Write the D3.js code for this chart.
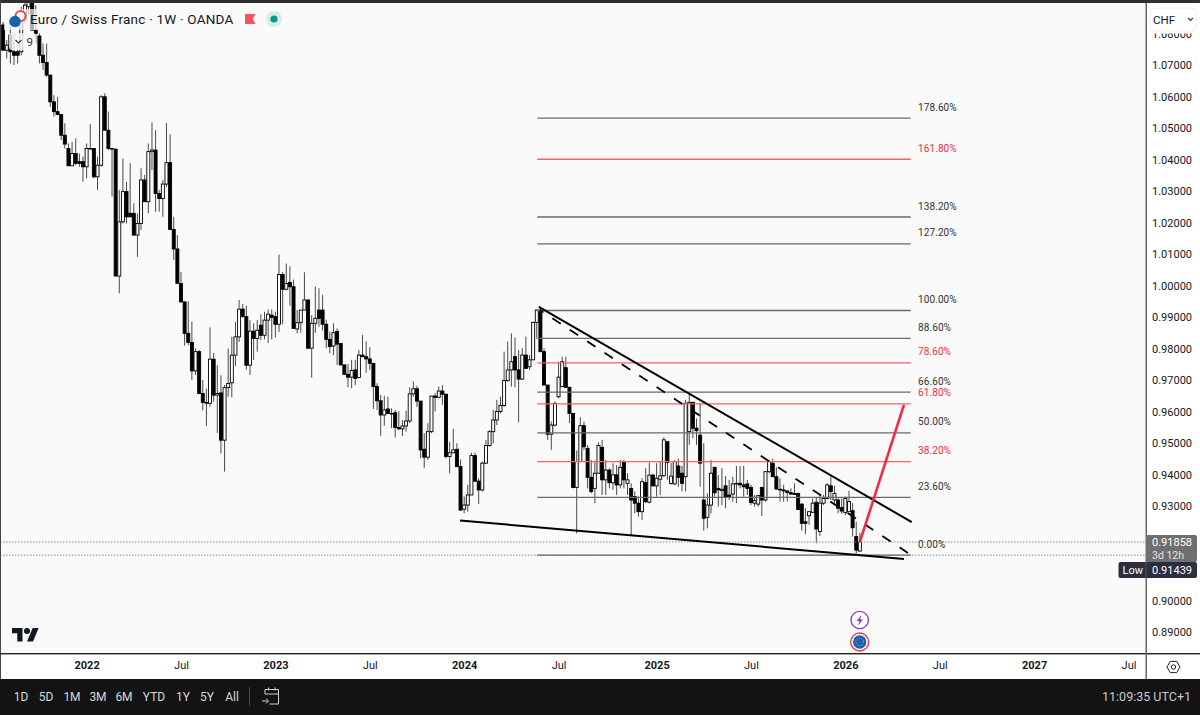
<!DOCTYPE html>
<html><head><meta charset="utf-8">
<script src="https://cdnjs.cloudflare.com/ajax/libs/d3/7.8.5/d3.min.js"></script>
<style>html,body{margin:0;padding:0;background:#111}svg{display:block}text{font-family:Roboto,sans-serif}</style>
</head><body><svg id="c" width="1200" height="715"></svg>
<script>
const opens=[1.0827,1.0747,1.0795,1.0742,1.0742,1.0742,1.0843,1.0885,1.0920,1.0811,
1.0792,1.0731,1.0708,1.0668,1.0583,1.0552,1.0543,1.0477,1.0435,1.0380,
1.0419,1.0393,1.0393,1.0377,1.0433,1.0435,1.0345,1.0382,1.0599,1.0493,
1.0435,1.0433,1.0030,1.0202,1.0298,1.0229,1.0229,1.0160,1.0197,1.0335,
1.0266,1.0425,1.0430,1.0292,1.0276,1.0322,1.0390,1.0178,1.0116,1.0006,
0.9948,0.9848,0.9819,0.9729,0.9790,0.9657,0.9626,0.9626,0.9766,0.9652,
0.9659,0.9509,0.9676,0.9691,0.9779,0.9837,0.9925,0.9901,0.9747,0.9855,
0.9832,0.9874,0.9842,0.9890,0.9906,0.9901,0.9877,1.0035,0.9988,1.0010,
0.9996,0.9862,0.9882,0.9922,0.9954,0.9801,0.9880,0.9922,0.9922,0.9877,
0.9829,0.9808,0.9854,0.9816,0.9748,0.9718,0.9709,0.9732,0.9708,0.9779,
0.9774,0.9767,0.9753,0.9679,0.9634,0.9589,0.9608,0.9594,0.9596,0.9549,
0.9545,0.9554,0.9570,0.9656,0.9672,0.9633,0.9480,0.9455,0.9536,0.9649,
0.9645,0.9665,0.9655,0.9457,0.9469,0.9480,0.9425,0.9290,0.9303,0.9335,
0.9460,0.9379,0.9351,0.9436,0.9492,0.9536,0.9573,0.9600,0.9619,0.9698,
0.9732,0.9774,0.9732,0.9703,0.9779,0.9742,0.9764,0.9883,0.9922,0.9790,
0.9684,0.9528,0.9557,0.9647,0.9679,0.9739,0.9677,0.9594,0.9359,0.9441,
0.9555,0.9483,0.9391,0.9356,0.9404,0.9486,0.9383,0.9414,0.9374,0.9399,
0.9367,0.9439,0.9372,0.9356,0.9330,0.9309,0.9282,0.9375,0.9312,0.9398,
0.9364,0.9385,0.9396,0.9504,0.9372,0.9370,0.9427,0.9404,0.9393,0.9536,
0.9629,0.9547,0.9525,0.9319,0.9264,0.9303,0.9423,0.9356,0.9349,0.9364,
0.9335,0.9338,0.9370,0.9372,0.9367,0.9370,0.9359,0.9309,0.9306,0.9359,
0.9319,0.9409,0.9436,0.9393,0.9353,0.9351,0.9348,0.9342,0.9340,0.9340,
0.9306,0.9250,0.9269,0.9280,0.9312,0.9219,0.9309,0.9324,0.9364,0.9319,
0.9319,0.9295,0.9279,0.9282,0.9285,0.9203,0.9157];
const highs=[1.0837,1.0779,1.0821,1.0800,1.0768,1.0885,1.0906,1.0930,1.0940,1.0890,
1.0800,1.0768,1.0768,1.0668,1.0604,1.0599,1.0543,1.0515,1.0451,1.0456,
1.0467,1.0419,1.0409,1.0451,1.0512,1.0435,1.0409,1.0604,1.0610,1.0552,
1.0435,1.0433,1.0303,1.0403,1.0329,1.0388,1.0261,1.0229,1.0372,1.0351,
1.0451,1.0518,1.0493,1.0303,1.0335,1.0515,1.0480,1.0218,1.0160,1.0043,
0.9950,0.9950,0.9885,0.9800,0.9795,0.9700,0.9673,0.9867,0.9786,0.9747,
0.9715,0.9684,0.9800,0.9837,0.9885,0.9954,0.9941,0.9936,0.9890,0.9880,
0.9890,0.9909,0.9917,0.9924,0.9924,0.9917,1.0098,1.0043,1.0070,1.0061,
1.0019,0.9922,0.9922,1.0042,0.9956,0.9906,0.9996,0.9991,0.9970,0.9891,
0.9854,0.9880,0.9864,0.9816,0.9748,0.9751,0.9764,0.9764,0.9795,0.9843,
0.9822,0.9804,0.9753,0.9690,0.9652,0.9650,0.9647,0.9610,0.9605,0.9602,
0.9573,0.9603,0.9677,0.9695,0.9682,0.9633,0.9531,0.9563,0.9649,0.9658,
0.9679,0.9684,0.9655,0.9504,0.9545,0.9499,0.9448,0.9330,0.9367,0.9469,
0.9469,0.9388,0.9441,0.9510,0.9541,0.9605,0.9637,0.9647,0.9790,0.9822,
0.9848,0.9835,0.9795,0.9801,0.9838,0.9779,0.9885,0.9924,0.9933,0.9801,
0.9684,0.9568,0.9631,0.9758,0.9774,0.9774,0.9677,0.9594,0.9476,0.9582,
0.9568,0.9494,0.9446,0.9444,0.9502,0.9510,0.9446,0.9420,0.9436,0.9430,
0.9446,0.9446,0.9404,0.9372,0.9346,0.9330,0.9388,0.9420,0.9438,0.9402,
0.9436,0.9441,0.9518,0.9504,0.9436,0.9446,0.9451,0.9427,0.9637,0.9658,
0.9629,0.9578,0.9626,0.9499,0.9340,0.9446,0.9423,0.9398,0.9420,0.9395,
0.9383,0.9393,0.9427,0.9427,0.9427,0.9383,0.9367,0.9335,0.9335,0.9361,
0.9411,0.9446,0.9451,0.9423,0.9388,0.9367,0.9349,0.9356,0.9372,0.9342,
0.9309,0.9293,0.9284,0.9324,0.9328,0.9335,0.9335,0.9372,0.9393,0.9364,
0.9324,0.9324,0.9330,0.9348,0.9309,0.9250,0.9215];
const lows=[1.0747,1.0721,1.0705,1.0700,1.0705,1.0731,1.0832,1.0860,1.0810,1.0768,
1.0705,1.0684,1.0663,1.0567,1.0536,1.0541,1.0462,1.0435,1.0380,1.0380,
1.0382,1.0377,1.0329,1.0340,1.0433,1.0340,1.0303,1.0377,1.0493,1.0430,
1.0282,1.0030,0.9975,1.0197,1.0197,1.0218,1.0160,1.0091,1.0176,1.0266,
1.0229,1.0366,1.0234,1.0234,1.0218,1.0313,1.0176,1.0081,1.0007,0.9946,
0.9809,0.9811,0.9700,0.9716,0.9655,0.9604,0.9554,0.9615,0.9631,0.9532,
0.9467,0.9409,0.9647,0.9645,0.9744,0.9821,0.9899,0.9733,0.9716,0.9763,
0.9790,0.9827,0.9829,0.9818,0.9829,0.9835,0.9853,0.9877,0.9985,0.9936,
0.9864,0.9848,0.9850,0.9922,0.9801,0.9708,0.9850,0.9869,0.9857,0.9801,
0.9785,0.9779,0.9748,0.9745,0.9716,0.9677,0.9674,0.9684,0.9705,0.9774,
0.9723,0.9732,0.9608,0.9605,0.9523,0.9555,0.9594,0.9547,0.9517,0.9541,
0.9522,0.9536,0.9563,0.9647,0.9615,0.9451,0.9420,0.9446,0.9531,0.9600,
0.9642,0.9621,0.9451,0.9404,0.9467,0.9423,0.9285,0.9277,0.9282,0.9335,
0.9377,0.9306,0.9346,0.9433,0.9488,0.9499,0.9557,0.9594,0.9615,0.9695,
0.9679,0.9677,0.9566,0.9700,0.9737,0.9732,0.9764,0.9832,0.9790,0.9684,
0.9510,0.9478,0.9552,0.9642,0.9677,0.9674,0.9563,0.9356,0.9213,0.9441,
0.9478,0.9356,0.9340,0.9309,0.9404,0.9335,0.9335,0.9356,0.9351,0.9335,
0.9356,0.9356,0.9335,0.9208,0.9277,0.9266,0.9256,0.9309,0.9308,0.9361,
0.9330,0.9335,0.9393,0.9383,0.9367,0.9367,0.9361,0.9346,0.9346,0.9494,
0.9515,0.9494,0.9361,0.9222,0.9229,0.9277,0.9330,0.9298,0.9303,0.9293,
0.9319,0.9314,0.9309,0.9356,0.9330,0.9335,0.9303,0.9298,0.9298,0.9268,
0.9314,0.9404,0.9393,0.9351,0.9314,0.9314,0.9314,0.9335,0.9335,0.9287,
0.9222,0.9211,0.9240,0.9277,0.9182,0.9205,0.9303,0.9321,0.9319,0.9303,
0.9277,0.9275,0.9271,0.9282,0.9203,0.9144,0.9155];
const closes=[1.0747,1.0763,1.0742,1.0731,1.0731,1.0843,1.0890,1.0920,1.0811,1.0800,
1.0731,1.0708,1.0668,1.0583,1.0552,1.0543,1.0477,1.0449,1.0380,1.0419,
1.0388,1.0388,1.0377,1.0435,1.0435,1.0345,1.0382,1.0599,1.0493,1.0435,
1.0433,1.0030,1.0202,1.0298,1.0218,1.0218,1.0160,1.0197,1.0335,1.0266,
1.0425,1.0430,1.0292,1.0276,1.0322,1.0390,1.0178,1.0116,1.0007,0.9948,
0.9848,0.9819,0.9729,0.9790,0.9657,0.9629,0.9629,0.9766,0.9652,0.9657,
0.9509,0.9676,0.9689,0.9779,0.9837,0.9925,0.9901,0.9747,0.9855,0.9832,
0.9858,0.9842,0.9890,0.9909,0.9899,0.9877,1.0035,0.9988,1.0006,0.9996,
0.9864,0.9882,0.9922,0.9954,0.9801,0.9880,0.9896,0.9896,0.9877,0.9829,
0.9806,0.9850,0.9814,0.9748,0.9718,0.9709,0.9730,0.9705,0.9779,0.9774,
0.9767,0.9753,0.9679,0.9634,0.9589,0.9605,0.9594,0.9592,0.9549,0.9545,
0.9554,0.9570,0.9656,0.9672,0.9633,0.9478,0.9455,0.9536,0.9649,0.9645,
0.9665,0.9655,0.9457,0.9469,0.9478,0.9425,0.9287,0.9303,0.9335,0.9460,
0.9379,0.9351,0.9436,0.9492,0.9536,0.9573,0.9600,0.9619,0.9698,0.9732,
0.9758,0.9732,0.9703,0.9779,0.9737,0.9764,0.9883,0.9922,0.9790,0.9684,
0.9528,0.9557,0.9626,0.9709,0.9758,0.9677,0.9594,0.9359,0.9441,0.9555,
0.9488,0.9391,0.9346,0.9404,0.9492,0.9383,0.9414,0.9374,0.9399,0.9367,
0.9423,0.9383,0.9383,0.9319,0.9309,0.9282,0.9377,0.9314,0.9398,0.9364,
0.9388,0.9396,0.9510,0.9438,0.9395,0.9441,0.9391,0.9372,0.9626,0.9629,
0.9547,0.9539,0.9436,0.9261,0.9303,0.9404,0.9342,0.9351,0.9353,0.9328,
0.9328,0.9370,0.9372,0.9367,0.9361,0.9356,0.9311,0.9317,0.9333,0.9319,
0.9409,0.9441,0.9393,0.9354,0.9351,0.9348,0.9343,0.9338,0.9337,0.9289,
0.9245,0.9245,0.9282,0.9309,0.9227,0.9309,0.9324,0.9367,0.9346,0.9340,
0.9293,0.9284,0.9324,0.9314,0.9231,0.9160,0.9186];
const priceTicks=[1.08,1.07,1.06,1.05,1.04,1.03,1.02,1.01,1.00,0.99,0.98,0.97,0.96,0.95,0.94,0.93,0.90,0.89];
const timeTickDates=["2022-01-03","2022-07-04","2023-01-02","2023-07-03","2024-01-01","2024-07-01","2025-01-06","2025-07-07","2026-01-05","2026-07-06","2027-01-04","2027-07-05"];
const timeTickLabels=["2022","Jul","2023","Jul","2024","Jul","2025","Jul","2026","Jul","2027","Jul"];
const fibRatios=[1.786,1.618,1.382,1.272,1,0.886,0.786,0.666,0.618,0.5,0.382,0.236,0];
const fibRed=[1.618,0.786,0.618,0.382];
const fibLowPrice=0.91439, fibHighPrice=0.99207;
const rangeButtons=["1D","5D","1M","3M","6M","YTD","1Y","5Y","All"];
const trendSolid=[["2024-05-24",0.9932],["2026-05-13",0.9249]];
const trendFloor=[["2023-12-24",0.9254],["2026-04-28",0.9132]];
const trendDash=[["2024-05-26",0.9922],["2026-05-06",0.9151]];
const trendRed=[["2026-02-02",0.91858],["2026-04-28",0.9621]];
const fibSpan=["2024-05-21","2026-05-11"];
const lastBar="2026-02-02", lastPrice=0.91858, lowPrice=0.91439;

const svg=d3.select("#c");
const W=1146,PB=654;
const x=d3.scaleUtc().domain([new Date("2021-07-20"),new Date("2027-07-31")]).range([0,1142]);
const y=d3.scaleLinear().domain([0.89,1.07]).range([632,65]);
const D=s=>new Date(s);
const bars=opens.map((o,i)=>({date:d3.utcDay.offset(D(lastBar),-7*(opens.length-1-i)),o,h:highs[i],l:lows[i],c:closes[i]}));

svg.append("rect").attr("width",1200).attr("height",715).attr("fill","#ffffff");
svg.append("rect").attr("x",1).attr("y",3).attr("width",W-1).attr("height",PB-3).attr("fill","#fafafa");
svg.append("defs").append("clipPath").attr("id","pane").append("rect").attr("x",1).attr("y",3).attr("width",W-1).attr("height",PB-3);
const pane=svg.append("g").attr("clip-path","url(#pane)");

// candles
const cg=pane.append("g").selectAll("g").data(bars).join("g");
cg.append("line").attr("x1",d=>x(d.date)).attr("x2",d=>x(d.date)).attr("y1",d=>y(d.h)).attr("y2",d=>y(d.l)).attr("stroke","#4a4a4a").attr("stroke-width",1);
cg.append("rect").attr("x",d=>x(d.date)-1.5).attr("width",3)
 .attr("y",d=>y(Math.max(d.o,d.c))).attr("height",d=>Math.max(0.6,Math.abs(y(d.o)-y(d.c))))
 .attr("fill",d=>d.c>=d.o?"#ffffff":"#000000").attr("stroke","#000000").attr("stroke-width",0.9);

// dotted price lines
[lastPrice,lowPrice].forEach(p=>pane.append("line").attr("x1",0).attr("x2",W).attr("y1",y(p)).attr("y2",y(p)).attr("stroke","#888").attr("stroke-width",1).attr("stroke-dasharray","1.5 1.5"));

// fib
const fibPrice=r=>fibLowPrice+r*(fibHighPrice-fibLowPrice);
const fg=pane.append("g").selectAll("g").data(fibRatios).join("g");
fg.append("line").attr("x1",x(D(fibSpan[0]))).attr("x2",x(D(fibSpan[1]))).attr("y1",r=>y(fibPrice(r))).attr("y2",r=>y(fibPrice(r)))
 .attr("stroke",r=>fibRed.includes(r)?"#f4606c":"#6a6a6a").attr("stroke-width",1.3);
fg.append("text").attr("x",918).attr("y",r=>y(fibPrice(r))-7.5).attr("font-size",10).attr("letter-spacing",0.1)
 .attr("fill",r=>fibRed.includes(r)?"#e8303f":"#333").text(r=>(r*100).toFixed(2)+"%");

// trend lines
const ln=d3.line().x(d=>x(D(d[0]))).y(d=>y(d[1]));
pane.append("path").attr("d",ln(trendSolid)).attr("stroke","#000").attr("stroke-width",2).attr("fill","none");
pane.append("path").attr("d",ln(trendFloor)).attr("stroke","#000").attr("stroke-width",2).attr("fill","none");
pane.append("path").attr("d",ln(trendDash)).attr("stroke","#000").attr("stroke-width",1.8).attr("stroke-dasharray","10 10.8").attr("stroke-dashoffset",5.8).attr("fill","none");
pane.append("path").attr("d",ln(trendRed)).attr("stroke","#f5293f").attr("stroke-width",2.6).attr("fill","none");

// header
pane.append("rect").attr("x",4).attr("y",9).attr("width",290).attr("height",21).attr("fill","#fafafa").attr("opacity",0.7);
pane.append("rect").attr("x",9).attr("y",33).attr("width",27).attr("height",17).attr("rx",3).attr("fill","#fafafa").attr("opacity",0.8);
pane.append("circle").attr("cx",20.5).attr("cy",16).attr("r",5).attr("fill","#fff").attr("stroke","#e8474c").attr("stroke-width",2);
pane.append("circle").attr("cx",15).attr("cy",21.5).attr("r",5.8).attr("fill","#1b5fb0");
pane.append("text").attr("x",30).attr("y",24).attr("font-size",13.5).attr("fill","#131722").attr("letter-spacing",0.22).text("Euro / Swiss Franc · 1W · OANDA");
pane.append("path").attr("d","M245 14h10.5l-2.6 5 2.6 5H245z").attr("fill","#f7525f");
pane.append("circle").attr("cx",274).attr("cy",19).attr("r",8).attr("fill","#d6eee9");
pane.append("circle").attr("cx",274).attr("cy",19).attr("r",3.6).attr("fill","#089981");
pane.append("path").attr("d","M15.5 40l3 3 3-3").attr("fill","none").attr("stroke","#333").attr("stroke-width",1.1);
pane.append("text").attr("x",26.5).attr("y",46).attr("font-size",11.5).attr("fill","#333").text("9");

// logo
pane.append("g").attr("transform","translate(12,625) scale(0.75)").call(g=>{
 g.append("path").attr("d","M14 22H7V11H0V4h14v18zM28 22h-8l7.5-18h8L28 22z").attr("fill","#131722");
 g.append("circle").attr("cx",20).attr("cy",8).attr("r",4).attr("fill","#131722");
});

// event icons
pane.append("circle").attr("cx",859.7).attr("cy",620).attr("r",8.7).attr("fill","#fff").attr("stroke","#8e35c4").attr("stroke-width",1.3);
pane.append("path").attr("d","M861.5 615l-5 6h3l-1.5 4.5 5-6h-3z").attr("fill","#8e35c4");
pane.append("circle").attr("cx",859.7).attr("cy",642).attr("r",9).attr("fill","#fff").attr("stroke","#ee3a46").attr("stroke-width",1.4);
pane.append("circle").attr("cx",859.7).attr("cy",642).attr("r",6.7).attr("fill","#1b5fb0");
pane.append("circle").attr("cx",859.7).attr("cy",642).attr("r",3.8).attr("fill","none").attr("stroke","#e5c640").attr("stroke-width",0.9).attr("stroke-dasharray","1 1.4");

// price axis
const yAxis=svg.append("g").attr("transform",`translate(${W+6},0)`).call(d3.axisRight(y).tickValues(priceTicks).tickSize(0).tickPadding(0).tickFormat(d3.format(".5f")));
yAxis.select(".domain").remove();
yAxis.selectAll("text").attr("font-size",11).attr("fill","#131722").attr("font-family","Roboto,sans-serif");

// time axis
const timeTicks=timeTickDates.map(D);
const xAxis=svg.append("g").attr("transform",`translate(0,${PB})`).call(d3.axisBottom(x).tickValues(timeTicks).tickSize(0).tickPadding(7).tickFormat((d,i)=>timeTickLabels[i]));
xAxis.select(".domain").remove();
xAxis.selectAll("text").attr("font-size",11).attr("font-family","Roboto,sans-serif").attr("fill","#131722").attr("font-weight",(d,i)=>timeTickLabels[i]==="Jul"?400:700);

// frame
svg.append("rect").attr("x",0).attr("y",0).attr("width",1200).attr("height",3).attr("fill","#2f2f2f");
svg.append("rect").attr("x",0).attr("y",0).attr("width",1).attr("height",680).attr("fill","#444");
svg.append("rect").attr("x",0).attr("y",653).attr("width",1200).attr("height",1.4).attr("fill","#222");
svg.append("rect").attr("x",W-.5).attr("y",3).attr("width",1.5).attr("height",676).attr("fill","#666");
svg.append("rect").attr("x",0).attr("y",679).attr("width",1200).attr("height",36).attr("fill","#131313");

// currency box
svg.append("rect").attr("x",W+1).attr("y",3).attr("width",53).attr("height",30.5).attr("fill","#fff");
svg.append("rect").attr("x",1150).attr("y",8).attr("width",46).attr("height",23).attr("rx",4).attr("fill","#fff").attr("stroke","#eee");
svg.append("text").attr("x",1153).attr("y",24).attr("font-size",11.5).attr("fill","#131722").text("CHF");
svg.append("path").attr("d","M1188 18l2.5 2.5 2.5-2.5").attr("fill","none").attr("stroke","#333").attr("stroke-width",1.1);

// price tags
svg.append("rect").attr("x",W).attr("y",535).attr("width",51).attr("height",27).attr("rx",2).attr("fill","#6f6f6f");
svg.append("text").attr("x",W+6).attr("y",546).attr("font-size",11).attr("fill","#fff").text(lastPrice.toFixed(5));
svg.append("text").attr("x",W+6).attr("y",559).attr("font-size",10.5).attr("fill","#e4e4e4").text("3d 12h");
svg.append("rect").attr("x",1118.5).attr("y",562).attr("width",78.5).attr("height",16).attr("rx",2).attr("fill","#2a2e3f");
svg.append("text").attr("x",1122.5).attr("y",574).attr("font-size",11).attr("fill","#fff").text("Low");
svg.append("text").attr("x",W+6).attr("y",574).attr("font-size",11).attr("fill","#fff").text(lowPrice.toFixed(5));
svg.append("rect").attr("x",W-.5).attr("y",562).attr("width",1).attr("height",16).attr("fill","#555");

// gear
svg.append("path").attr("d","M1167 667l3.2-5.6h6.6l3.2 5.6-3.2 5.6h-6.6z").attr("fill","none").attr("stroke","#222").attr("stroke-width",1);
svg.append("circle").attr("cx",1173.5).attr("cy",667).attr("r",2.2).attr("fill","none").attr("stroke","#222").attr("stroke-width",1);

// bottom bar
const btnPos={"1D":21,"5D":46,"1M":72,"3M":98,"6M":124,"YTD":154,"1Y":183,"5Y":207,"All":232};
svg.append("g").selectAll("text").data(rangeButtons).join("text").attr("x",d=>btnPos[d]).attr("y",701).attr("text-anchor","middle").attr("font-size",12).attr("fill","#d6d8dc").text(d=>d);
svg.append("line").attr("x1",249.5).attr("x2",249.5).attr("y1",687).attr("y2",706).attr("stroke","#4a4a4a");
svg.append("path").attr("d","M265 694v-4.5h13.5V704h-9M265 694h13.5M268.5 687.5v3M275 687.5v3M262 701h6M266 698.5l2.5 2.5-2.5 2.5").attr("fill","none").attr("stroke","#cfd1d5").attr("stroke-width",1);
svg.append("text").attr("x",1191).attr("y",701).attr("text-anchor","end").attr("font-size",12.5).attr("fill","#c9cbcf").text("11:09:35 UTC+1");
</script></body></html>
